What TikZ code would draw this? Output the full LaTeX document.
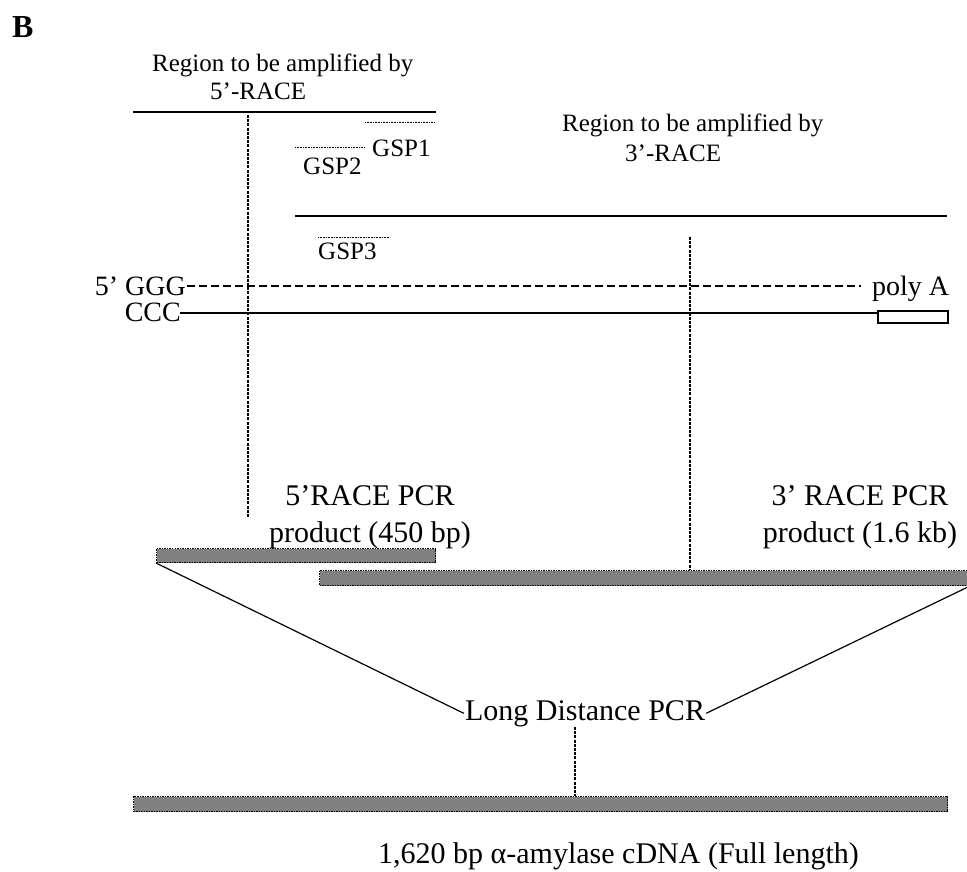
\documentclass[tikz,border=0pt]{standalone}
\usepackage{fontspec}
\setmainfont{Liberation Serif}
\newcommand{\smalltxt}{\fontsize{25}{30}\selectfont}
\newcommand{\bigtxt}{\fontsize{30}{36}\selectfont}
\newcommand{\strandtxt}{\fontsize{28}{32}\selectfont}
\begin{document}
\begin{tikzpicture}[x=1pt,y=-1pt,
  lab/.style={inner sep=0pt,font=\smalltxt},
  blab/.style={inner sep=0pt,font=\bigtxt},
  slab/.style={inner sep=0pt,font=\strandtxt},
  region/.style={line width=1.8pt},
  primer/.style={line width=0.9pt,dash pattern=on 1pt off 0.6pt},
  vguide/.style={line width=1.2pt,dash pattern=on 3pt off 1.2pt},
  bar/.style={fill=black!50,draw=black,line width=1pt,dash pattern=on 1.5pt off 1pt,inner sep=0pt,anchor=north west},
  conn/.style={line width=1.2pt}]
\useasboundingbox (0,0) rectangle (967,872);

\node[inner sep=0pt,anchor=base west,font=\fontsize{32}{36}\selectfont\bfseries] (B) at (12,38) {B};

% 5'-RACE region
\node[lab,anchor=base west] (r5a) at (152,72) {Region to be amplified by};
\node[lab,anchor=base west] (r5b) at (210,100) {5’-RACE};
\coordinate (reg5L) at (133,112);
\coordinate (reg5R) at (436,112);
\draw[region] (reg5L) -- (reg5R);

\coordinate (g1L) at (365,122);
\coordinate (g1R) at (435,122);
\draw[primer] (g1L) -- (g1R);
\node[lab,anchor=base west] (gsp1) at (372,157) {GSP1};
\coordinate (g2L) at (295,147);
\coordinate (g2R) at (365,147);
\draw[primer] (g2L) -- (g2R);
\node[lab,anchor=base west] (gsp2) at (303,175) {GSP2};

% 3'-RACE region
\node[lab,anchor=base west] (r3a) at (562,132) {Region to be amplified by};
\node[lab,anchor=base west] (r3b) at (625,162) {3’-RACE};
\coordinate (reg3L) at (295,216);
\coordinate (reg3R) at (947,216);
\draw[region] (reg3L) -- (reg3R);

\coordinate (g3L) at (318,237);
\coordinate (g3R) at (390,237);
\draw[primer] (g3L) -- (g3R);
\node[lab,anchor=base west] (gsp3) at (318,259) {GSP3};

% strands
\node[slab,anchor=base east] (ggg) at (186,295) {5’ GGG};
\node[slab,anchor=base west] (polyA) at (872,295) {poly A};
\coordinate (dashL) at (187,286);
\coordinate (dashR) at (861,286);
\draw[line width=1.2pt,dash pattern=on 8pt off 4pt] (dashL) -- (dashR);

\node[slab,anchor=base east] (ccc) at (181,321) {CCC};
\node[draw=black,fill=white,line width=1.5pt,inner sep=0pt,minimum width=70pt,minimum height=12pt,anchor=north west] (tail) at (877,310) {};
\coordinate (cccL) at (180,313);
\draw[line width=1.5pt] (cccL) -- (tail.west |- cccL);

% guide lines
\coordinate (v1top) at (248,115);
\coordinate (v1bot) at (248,518);
\draw[vguide] (v1top) -- (v1bot);

% PCR products
\node[blab,anchor=base] (p5a) at (370,505) {5’RACE PCR};
\node[blab,anchor=base] (p5b) at (370,542) {product (450 bp)};
\node[blab,anchor=base] (p3a) at (860,505) {3’ RACE PCR};
\node[blab,anchor=base] (p3b) at (860,542) {product (1.6 kb)};

\node[bar,minimum width=279pt,minimum height=14pt] (bar1) at (156,548) {};
\node[bar,minimum width=650pt,minimum height=15pt] (bar2) at (319,570) {};

\coordinate (v2top) at (690,237);
\draw[vguide] (v2top) -- (v2top |- bar2.north);

% long distance PCR
\node[blab,anchor=base,inner sep=1pt] (ldp) at (585,720) {Long Distance PCR};
\draw[conn] (bar1.south west) -- (ldp.west);
\draw[conn] (bar2.south east) -- (ldp.east);

\node[bar,minimum width=814pt,minimum height=15pt] (full) at (133,796) {};
\coordinate (v3top) at (575,727);
\draw[vguide] (v3top) -- (v3top |- full.north);

\node[blab,anchor=base west] (cap) at (378,863) {1,620 bp α-amylase cDNA (Full length)};
\end{tikzpicture}
\end{document}
